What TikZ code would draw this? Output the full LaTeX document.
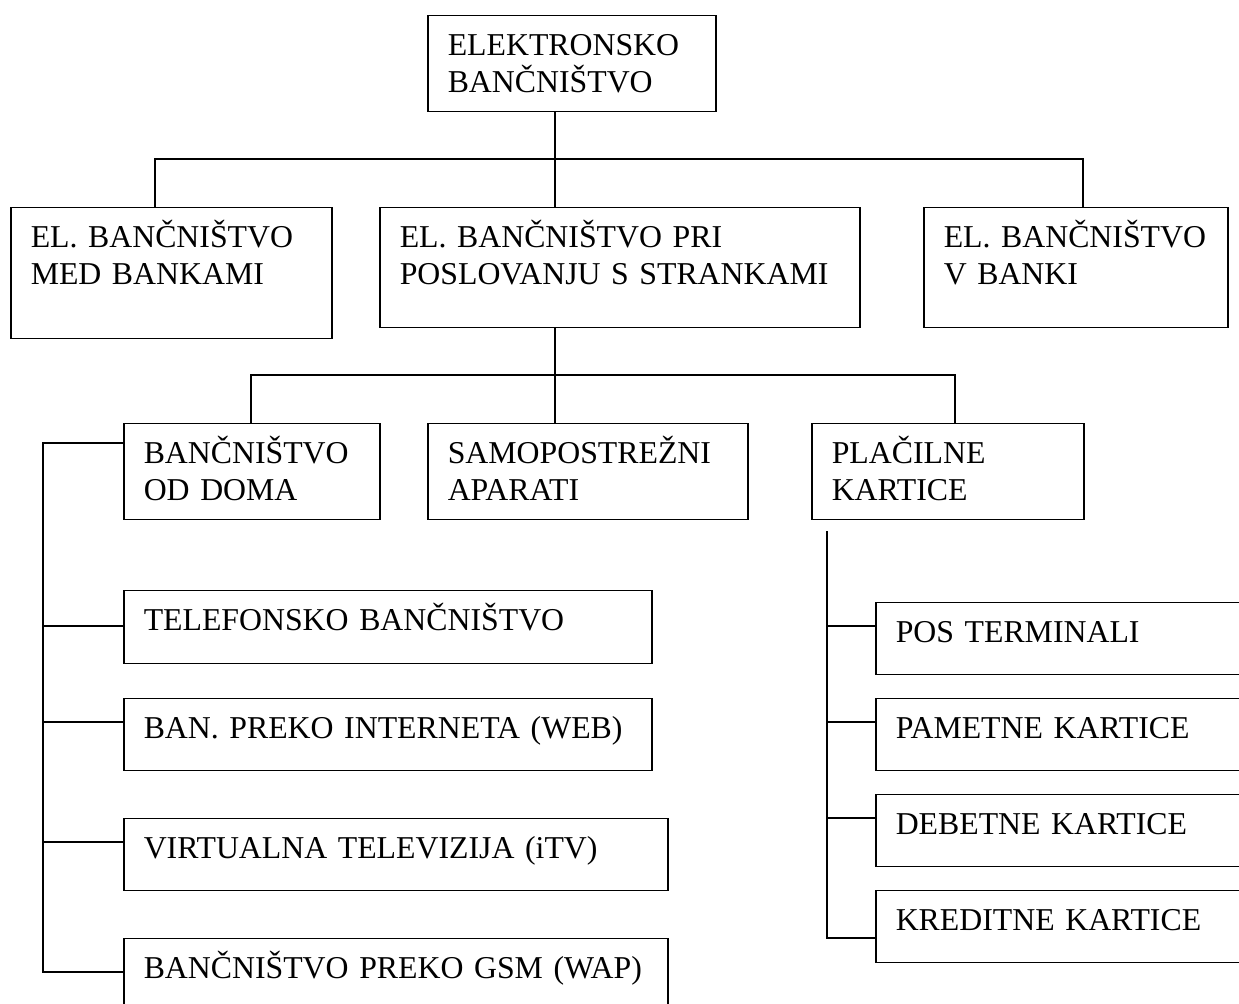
\documentclass[tikz,border=0pt]{standalone}
\usepackage{fontspec}
\setmainfont{Liberation Serif}
\usetikzlibrary{calc}

\begin{document}
\begin{tikzpicture}[x=0.5pt,y=-0.5pt,line width=0.75pt,
  box/.style={draw,anchor=north west,align=left,inner xsep=10pt,inner ysep=0pt,
    text height=20pt,font=\fontsize{15.9}{18.5}\selectfont}]
  \useasboundingbox (0,0) rectangle (1239,1004);
  \clip (0,0) rectangle (1239,1004);
  \node[box,text width=124pt,text depth=28pt] (top) at (427,15) {ELEKTRONSKO\\BANČNIŠTVO};
  \node[box,text width=140.5pt,text depth=45.5pt] (medbank) at (10,207) {EL. BANČNIŠTVO\\MED BANKAMI};
  \node[box,text width=220pt,text depth=40pt] (stranke) at (379,207) {EL. BANČNIŠTVO PRI\\POSLOVANJU S STRANKAMI};
  \node[box,text width=132pt,text depth=40pt] (vbanki) at (923,207) {EL. BANČNIŠTVO\\V BANKI};
  \node[box,text width=108pt,text depth=28pt] (doma) at (123,423) {BANČNIŠTVO\\OD DOMA};
  \node[box,text width=140pt,text depth=28pt] (samo) at (427,423) {SAMOPOSTREŽNI\\APARATI};
  \node[box,text width=116pt,text depth=28pt] (placilne) at (811,423) {PLAČILNE\\KARTICE};
  \node[box,text width=244pt,text depth=16.5pt] (tel) at (123,590) {TELEFONSKO BANČNIŠTVO};
  \node[box,text width=244pt,text depth=16pt] (web) at (123,698) {BAN. PREKO INTERNETA (WEB)};
  \node[box,text width=252pt,text depth=16pt] (itv) at (123,818) {VIRTUALNA TELEVIZIJA (iTV)};
  \node[box,text width=252pt,text depth=20pt] (gsm) at (123,938) {BANČNIŠTVO PREKO GSM (WAP)};
  \node[box,text width=180pt,text depth=16pt] (pos) at (875,602) {POS TERMINALI};
  \node[box,text width=180pt,text depth=16pt] (pam) at (875,698) {PAMETNE KARTICE};
  \node[box,text width=180pt,text depth=16pt] (deb) at (875,794) {DEBETNE KARTICE};
  \node[box,text width=180pt,text depth=16pt] (kred) at (875,890) {KREDITNE KARTICE};

  \coordinate (bus1l) at (155,159);
  \coordinate (bus1m) at (555,159);
  \coordinate (bus1r) at (1083,159);
  \draw (medbank.north -| bus1l) -- (bus1l) -- (bus1r) -- (vbanki.north -| bus1r);
  \draw (top.south -| bus1m) -- (stranke.north -| bus1m);
  \coordinate (bus2l) at (251,375);
  \coordinate (bus2m) at (555,375);
  \coordinate (bus2r) at (955,375);
  \draw (doma.north -| bus2l) -- (bus2l) -- (bus2r) -- (placilne.north -| bus2r);
  \draw (stranke.south -| bus2m) -- (samo.north -| bus2m);

  \draw ($(doma.north west)+(0,20)$) -- ++(-80,0) -- ($(gsm.north west)+(-80,34)$) -- ++(80,0);
  \foreach \n/\dy in {tel/36,web/24,itv/24}
    \draw (\n.north west) ++(0,\dy) -- ++(-80,0);
  \coordinate (railr) at ($(placilne.south west)+(16,11)$);
  \draw (railr) -- ($(kred.north west)+(-48,48)$) -- ++(48,0);
  \foreach \n in {pos,pam,deb}
    \draw (\n.north west) ++(0,24) -- ++(-48,0);
\end{tikzpicture}
\end{document}
